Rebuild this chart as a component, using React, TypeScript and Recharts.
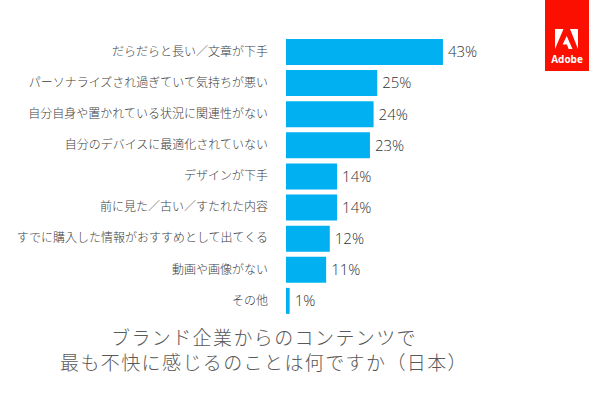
import { BarChart, Bar, XAxis, YAxis, LabelList } from "recharts";

const categories = [
  "だらだらと長い／文章が下手",
  "パーソナライズされ過ぎていて気持ちが悪い",
  "自分自身や置かれている状況に関連性がない",
  "自分のデバイスに最適化されていない",
  "デザインが下手",
  "前に見た／古い／すたれた内容",
  "すでに購入した情報がおすすめとして出てくる",
  "動画や画像がない",
  "その他",
];

const values = [43, 25, 24, 23, 14, 14, 12, 11, 1];

const titleLines = ["ブランド企業からのコンテンツで", "最も不快に感じるのことは何ですか（日本）"];

const BAR_COLOR = "#00B0F0";
const JP_FONT = '"Noto Sans CJK JP", "Noto Sans", sans-serif';

export default function App() {
  const chartData = categories.map((name, i) => ({ name, value: values[i] }));

  return (
    <div
      style={{
        position: "fixed",
        left: 0,
        top: 0,
        width: 600,
        height: 398,
        background: "#fff",
        fontFamily: JP_FONT,
      }}
    >
      <BarChart
        width={600}
        height={316}
        data={chartData}
        layout="vertical"
        margin={{ top: 36, right: 22, bottom: 0, left: 0 }}
        barCategoryGap={5}
      >
        <XAxis type="number" domain={[0, 80]} hide />
        <YAxis
          type="category"
          dataKey="name"
          width={286}
          axisLine={false}
          tickLine={false}
          tickMargin={12}
          interval={0}
          tick={{ fill: "#404040", fontSize: 12, fontFamily: JP_FONT, fontWeight: 300 }}
        />
        <Bar dataKey="value" fill={BAR_COLOR} barSize={26} isAnimationActive={false}>
          <LabelList
            dataKey="value"
            position="right"
            offset={5}
            fill="#333"
            fontSize={15}
            fontWeight={300}
            fontFamily='"Open Sans", sans-serif'
            formatter={(v: number) => `${v}%`}
          />
        </Bar>
      </BarChart>

      <div
        style={{
          position: "absolute",
          left: 0,
          top: 324,
          width: 528,
          textAlign: "center",
          color: "#595959",
          fontSize: 19,
          lineHeight: "25px",
          fontWeight: 300,
          letterSpacing: 1.4,
        }}
      >
        {titleLines.map((t) => (
          <div key={t}>{t}</div>
        ))}
      </div>

      <svg
        width={44}
        height={71}
        style={{ position: "absolute", left: 545, top: 0 }}
      >
        <rect x={0} y={0} width={44} height={71} fill="#FA0F00" />
        <polygon points="10,29 18.5,29 10,49" fill="#fff" />
        <polygon points="25,29 33,29 33,49" fill="#fff" />
        <polygon points="21.7,36 27.5,49 23.6,49 21.9,44.6 17.6,44.6" fill="#fff" />
        <text
          x={22}
          y={63}
          textAnchor="middle"
          fill="#fff"
          fontSize={10}
          fontWeight={700}
          fontFamily='"Open Sans", sans-serif'
        >
          Adobe
        </text>
      </svg>
    </div>
  );
}
